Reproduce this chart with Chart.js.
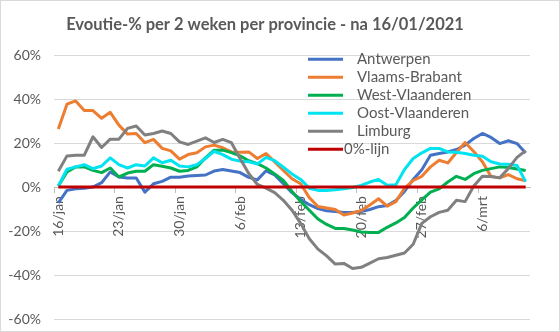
<!DOCTYPE html>
<html>
<head>
<meta charset="utf-8">
<script src="https://cdn.jsdelivr.net/npm/chart.js@4"></script>
<style>
  html, body { margin: 0; padding: 0; background: #fff; }
  #wrap { width: 560px; height: 332px; position: relative; }
</style>
</head>
<body>
<div id="wrap"><canvas id="grafiek"></canvas></div>
<script>
// dagen vanaf 16/01/2021
const categories = [
  '16/jan','17/jan','18/jan','19/jan','20/jan','21/jan','22/jan','23/jan','24/jan','25/jan',
  '26/jan','27/jan','28/jan','29/jan','30/jan','31/jan','1/feb','2/feb','3/feb','4/feb',
  '5/feb','6/feb','7/feb','8/feb','9/feb','10/feb','11/feb','12/feb','13/feb','14/feb',
  '15/feb','16/feb','17/feb','18/feb','19/feb','20/feb','21/feb','22/feb','23/feb','24/feb',
  '25/feb','26/feb','27/feb','28/feb','1/mrt','2/mrt','3/mrt','4/mrt','5/mrt','6/mrt',
  '7/mrt','8/mrt','9/mrt','10/mrt','11/mrt'
];
const xTickLabels = ['16/jan','23/jan','30/jan','6/feb','13/feb','20/feb','27/feb','6/mrt'];
const yTickValues = [-60, -40, -20, 0, 20, 40, 60];

const antwerpen = [
  -7.2, -1.5, -0.8, -0.5, 0, 2, 6.9, 4.6, 4.1, 4.1,
  -2.3, 1.5, 2.6, 4.5, 4.5, 5, 5.3, 5.5, 7.3, 8,
  7.3, 6.6, 4.4, 3.3, 7.4, 5.5, 1.5, -2.5, -5.5, -8,
  -9.8, -10.8, -11.1, -11.5, -11.5, -11.1, -10.2, -8.9, -8.4, -6.1,
  -2, 3.5, 7.9, 14.5, 15.3, 16, 17.1, 19.1, 22.1, 24.4,
  22.6, 19.8, 21.1, 19.8, 15.5
];
const vlaamsBrabant = [
  26.4, 37.7, 39.2, 34.8, 34.8, 31.3, 34, 28.2, 24.1, 24.4,
  20.2, 21.7, 17.6, 16.5, 12.7, 14.8, 15.6, 18.3, 19.1, 17.9,
  16, 15.8, 16, 13, 15.3, 11.5, 7.6, 3.8, 1.5, -4.8,
  -8.8, -9.5, -10.2, -12.7, -11.8, -10.7, -8.1, -5.3, -8.7, -6.6,
  -0.5, 3, 4.9, 9.2, 12.2, 11, 15.7, 20.3, 16.2, 11.5,
  4.8, 4.2, 5.7, 3.8, 2.9
];
const westVlaanderen = [
  0.5, 6.9, 9.2, 9.2, 7.6, 6.6, 8.7, 4.6, 6.4, 7.2,
  7.2, 10.2, 9.5, 8.7, 7.2, 7.6, 9.2, 13.3, 16.8, 16.8,
  15.7, 14.2, 12, 10.7, 8.7, 6, 3, -2, -6.5, -10.5,
  -14.5, -17, -18.8, -18.8, -19.5, -20.4, -20.6, -20.6, -18.3, -16.3,
  -13.8, -9.5, -5.8, -2.3, -0.8, 2.3, 4.9, 3.5, 6.1, 7.6,
  8.4, 9.2, 8.9, 8.2, 7.6
];
const oostVlaanderen = [
  0.5, 8.1, 9.2, 10.2, 8.4, 9.6, 13.3, 10.2, 8.7, 10.2,
  9.6, 13.3, 11.1, 12.2, 9.6, 9.2, 10.2, 13, 16.3, 14.8,
  12.7, 11.8, 11.5, 10.5, 13.5, 12, 9, 6, 3.5, -0.5,
  -1.5, -1.5, -1.2, -0.8, -0.2, 0.8, 2.3, 3.5, 0.8, 1.1,
  8, 13, 15.6, 17.6, 17.6, 16, 15.9, 15.3, 14.5, 14,
  11.5, 10.5, 10.4, 9.8, 2.5
];
const limburg = [
  7.2, 14.2, 14.5, 14.5, 22.9, 18, 21.8, 21.8, 26.7, 27.8,
  23.7, 24.4, 25.5, 24.4, 20.6, 19.4, 20.9, 22.4, 20.3, 21.7,
  20.2, 13, 6.2, 1.2, -0.5, -2.5, -6, -10.5, -16.5, -23.5,
  -28.2, -31.3, -35, -34.7, -37, -36.5, -34.6, -32.6, -32, -31,
  -30, -26, -16.5, -13.5, -11.5, -10.5, -6, -6.6, 0.5, 4.9,
  4.8, 4.2, 8.5, 13.5, 16.6
];
const nulLijn = [
  0, 0, 0, 0, 0, 0, 0, 0, 0, 0,
  0, 0, 0, 0, 0, 0, 0, 0, 0, 0,
  0, 0, 0, 0, 0, 0, 0, 0, 0, 0,
  0, 0, 0, 0, 0, 0, 0, 0, 0, 0,
  0, 0, 0, 0, 0, 0, 0, 0, 0, 0,
  0, 0, 0, 0, 0
];

Chart.defaults.font.family = 'Lato';
Chart.defaults.color = '#595959';

function reeks(label, data, kleur, volgorde) {
  return {
    label: label,
    data: data,
    borderColor: kleur,
    backgroundColor: kleur,
    borderWidth: 3,
    pointRadius: 0,
    pointHoverRadius: 0,
    tension: 0,
    borderJoinStyle: 'round',
    order: volgorde
  };
}

// witte achtergrond + dunne rand zoals in Excel
const achtergrond = {
  id: 'achtergrond',
  beforeDraw(chart) {
    const ctx = chart.ctx;
    ctx.save();
    ctx.fillStyle = '#fff';
    ctx.fillRect(0, 0, chart.width, chart.height);
    ctx.strokeStyle = '#d9d9d9';
    ctx.lineWidth = 1;
    ctx.strokeRect(0.5, 0.5, chart.width - 1, chart.height - 1);
    ctx.restore();
  }
};

// legende binnen het grafiekvlak, rechtsboven
const legende = {
  id: 'legende',
  afterDatasetsDraw(chart) {
    const ctx = chart.ctx;
    ctx.save();
    ctx.font = '15px Lato';
    ctx.textBaseline = 'middle';
    chart.data.datasets.forEach((ds, i) => {
      const y = 59.3 + i * 18;
      ctx.strokeStyle = ds.borderColor;
      ctx.lineWidth = 3;
      ctx.beginPath();
      ctx.moveTo(308, y);
      ctx.lineTo(343, y);
      ctx.stroke();
      ctx.fillStyle = '#595959';
      ctx.fillText(ds.label, i === 5 ? 344 : 357, y);
    });
    ctx.restore();
  }
};

new Chart(document.getElementById('grafiek'), {
  type: 'line',
  data: {
    labels: categories,
    datasets: [
      reeks('Antwerpen', antwerpen, '#4472C4', 5),
      reeks('Vlaams-Brabant', vlaamsBrabant, '#ED7D31', 4),
      reeks('West-Vlaanderen', westVlaanderen, '#00B050', 3),
      reeks('Oost-Vlaanderen', oostVlaanderen, '#00E3F0', 2),
      reeks('Limburg', limburg, '#808080', 1),
      reeks('0%-lijn', nulLijn, '#C00000', 0)
    ]
  },
  options: {
    responsive: true,
    maintainAspectRatio: false,
    animation: false,
    layout: { padding: { left: 0, right: 30, top: 0, bottom: 13 } },
    plugins: {
      legend: { display: false },
      tooltip: { enabled: false },
      title: {
        display: true,
        text: 'Evoutie-% per 2 weken per provincie - na 16/01/2021',
        color: '#595959',
        font: { size: 16.5, weight: 'bold' },
        padding: { top: 15, bottom: 20.4 }
      }
    },
    scales: {
      x: {
        type: 'category',
        position: { y: 0 },
        offset: true,
        afterFit: s => { s.paddingLeft = 0; s.paddingRight = 0; s.paddingTop = 0; s.paddingBottom = 0; },
        grid: {
          offset: true,
          drawOnChartArea: false,
          drawTicks: true,
          tickLength: 5,
          color: c => (c.index % 7 === 0 ? '#bfbfbf' : 'rgba(0,0,0,0)')
        },
        border: { display: true, color: '#bfbfbf', width: 1 },
        ticks: {
          autoSkip: false,
          minRotation: 90,
          maxRotation: 90,
          padding: 4,
          color: '#595959',
          font: { size: 14 },
          callback: function (v) {
            const l = this.getLabelForValue(v);
            return xTickLabels.includes(l) ? l : '';
          }
        }
      },
      y: {
        min: -60,
        max: 60,
        afterBuildTicks: s => { s.ticks = yTickValues.map(v => ({ value: v })); },
        afterFit: s => { s.width = 54; s.paddingTop = 0; s.paddingBottom = 0; },
        grid: { color: '#d9d9d9', drawTicks: false },
        border: { display: false },
        ticks: {
          padding: 13,
          color: '#595959',
          font: { size: 14 },
          callback: v => v + '%'
        }
      }
    }
  },
  plugins: [achtergrond, legende]
});
</script>
</body>
</html>
